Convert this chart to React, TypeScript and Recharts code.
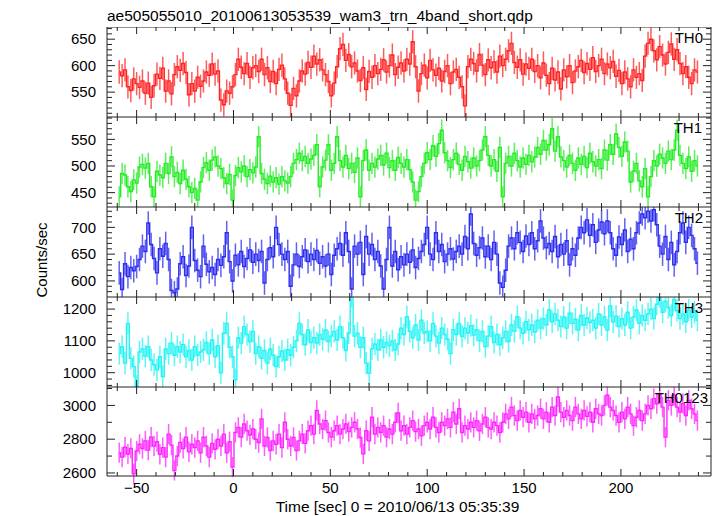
import { ComposedChart, ErrorBar, Line, XAxis, YAxis } from "recharts"

// time bins (sec from 2010/06/13 05:35:39)
const T_START = -59
const T_STEP = 1.5
const TIME_DOMAIN: [number, number] = [-65.3, 246.5]
const timeTicks = [-60, -50, -40, -30, -20, -10, 0, 10, 20, 30, 40, 50, 60, 70, 80, 90, 100, 110, 120, 130, 140, 150, 160, 170, 180, 190, 200, 210, 220, 230, 240]
const timeLabels = [-50, 0, 50, 100, 150, 200]

const th0Rate = [
  588, 581, 592, 560, 553, 575, 566,
  559, 571, 548, 567, 540, 562,
  584, 576, 595, 552, 571, 547, 583,
  598, 591, 604, 587,
  545, 566, 552, 578, 561, 571,
  588, 582, 603, 584, 590, 535, 526, 552, 548, 560,
  583, 612, 597, 585, 604, 578, 596,
  600, 589, 612, 583, 596, 570, 589, 566, 593, 601, 575,
  548, 525, 557, 543, 571, 590,
  584, 606, 597, 618, 603, 611, 592, 583, 570,
  543, 567, 598,
  632, 640, 610, 621, 598, 605, 590,
  572, 596, 555, 589, 578, 600, 585,
  593, 611, 588, 600, 620, 583, 597, 605, 590, 612, 603, 645,
  598, 552, 585, 601, 577, 610, 592,
  582, 595, 571, 589, 600, 566, 588, 593, 578, 560, 524,
  598, 612, 604, 590, 621, 601, 583, 611, 596, 607, 588, 618, 600, 612, 628,
  642, 606, 597, 611, 584, 603, 595, 612, 589, 600, 577, 605,
  582, 566, 595, 573, 588, 556, 592, 579, 600, 568, 590,
  598, 610, 587, 604, 593, 615, 589, 600, 612, 585, 603, 596, 608,
  580, 591, 566, 588, 575, 560, 592, 578, 585, 572,
  618, 642, 650, 628, 611, 636, 620, 603, 625, 641, 612, 630,
  604, 585, 598, 578, 566, 592, 588,
]

const th1Rate = [
  442, 486, 483, 461, 452,
  474, 468, 498, 503, 496,
  505, 461, 442, 490, 483,
  478, 505, 486, 517, 480,
  488, 467, 492, 475, 461,
  450, 458, 436, 470,
  497, 506, 492, 511, 517, 500, 495,
  478, 467, 484, 436,
  482, 497, 489, 500, 480, 493, 487, 498, 555,
  486, 475, 467, 481, 470, 478, 466, 480,
  472, 468, 480, 505, 512,
  524, 510, 518, 505, 513, 520,
  540, 461, 498, 511, 540, 492, 505,
  555, 510, 498, 520, 495, 505, 488, 515,
  442, 510, 530, 492, 505, 498, 513,
  520, 502, 524, 497, 510, 492, 516, 505, 498, 512, 493,
  470, 436, 452, 480,
  505, 525, 512, 538, 518, 542, 567, 525, 510,
  497, 512, 524, 503, 492, 518, 508, 496, 515, 500, 510,
  530, 555, 520, 500, 512, 490, 535, 442,
  505, 518, 500, 524, 510, 498, 515, 503, 520, 508, 517,
  535, 522, 548, 530, 540, 570, 528, 555, 517,
  510, 498, 520, 505, 492, 515, 503, 518, 497, 524, 508, 500, 512, 495, 530, 511,
  540, 522, 560, 535, 518, 545, 528, 470,
  490, 505, 472, 461, 495, 442, 480,
  510, 500, 522, 515, 505, 528, 512, 530, 567, 520,
  505, 495, 517, 490, 510, 500,
]

const th2Rate = [
  615, 584, 632, 608, 625, 619,
  627, 640, 665, 655,
  708, 668, 642, 615, 660, 646, 670,
  640, 582, 578,
  585, 632, 645, 610, 628, 700, 638,
  620, 608, 665, 631, 617, 625, 612,
  640, 629, 645, 690, 636, 600,
  648, 630, 655, 627, 642, 658, 635,
  650, 638, 655, 596, 640,
  662, 645, 700, 668, 650, 640, 655,
  590, 630, 650, 627,
  645, 658, 636, 650, 640, 657, 633,
  645, 628, 650, 612, 648,
  660, 670, 648, 690, 655, 585, 665, 650,
  672, 612, 683, 650, 668, 640, 655, 628, 585,
  640, 700, 628, 655, 621, 645, 630, 650, 635, 658, 625, 642, 655,
  668, 700, 650, 640, 690, 655, 668, 636, 650, 660, 641, 655,
  665, 650, 683, 660, 725, 670, 648, 662, 680, 645, 665, 640, 672, 650,
  596, 588, 620,
  665, 680, 660, 690, 672, 655, 684, 668, 690, 660, 675, 712, 680, 662,
  670, 655, 683, 645, 668, 650, 675, 630, 660, 648,
  680, 700, 690, 714, 685, 705, 672, 695, 710, 688, 712, 690,
  660, 648, 682, 668, 695, 655, 678, 660, 690,
  708, 725, 718, 730, 712, 733, 705,
  665, 650, 683, 640, 672, 630, 655,
  690, 708, 672, 700, 685, 660, 633,
]

const th3Rate = [
  1060, 1082, 1030, 1155, 1045, 1019, 957,
  1065, 1075, 1052, 1082, 1040,
  1025, 1009, 1050, 988,
  1075, 1060, 1093, 1055, 1082, 1065, 1088,
  1050, 1070, 1040, 1082, 1055, 1065,
  1072, 1095, 1060, 1103, 1050, 1085, 1000,
  1124, 1155, 1080, 1050,
  978,
  1110, 1093, 1145, 1120, 1098, 1130,
  1060, 1082, 1045, 1070, 1030, 1075, 1055,
  1019, 1050, 1068, 1040, 1072, 1055, 1080,
  1100, 1155, 1120, 1088, 1134, 1095, 1110,
  1093, 1120, 1105, 1134, 1098, 1115,
  1130, 1103, 1145, 1110, 1070, 1125, 1240, 1115,
  1124, 1080, 1110, 1030, 998,
  1075, 1090, 1072, 1103, 1080, 1095, 1085, 1100, 1072, 1090,
  1140, 1120, 1176, 1130, 1110, 1150, 1103, 1165, 1125,
  1130, 1100, 1155, 1115, 1093, 1140, 1120, 1105, 1060,
  1135, 1120, 1155, 1114, 1140, 1125, 1148, 1118, 1135,
  1100, 1130, 1082, 1115, 1145, 1095, 1120, 1088, 1110, 1130, 1098,
  1150, 1130, 1176, 1140, 1124, 1160, 1135, 1150, 1128, 1165, 1140,
  1170, 1150, 1197, 1160, 1185, 1165,
  1145, 1175, 1140, 1187, 1155, 1168, 1134, 1180, 1150, 1172, 1158,
  1165, 1140, 1185, 1150, 1175, 1134, 1210, 1160, 1178, 1145,
  1170, 1150, 1190, 1140, 1175, 1197, 1155, 1180, 1165,
  1185, 1200, 1170, 1215, 1240, 1190, 1225, 1205, 1180, 1230,
  1195, 1170, 1185, 1160, 1197, 1175, 1190, 1165,
]

const th0123Rate = [
  2720, 2694, 2753, 2712, 2745, 2595, 2730,
  2770, 2745, 2790, 2735, 2812, 2760, 2785,
  2710, 2750, 2694, 2830, 2765, 2615,
  2700, 2780, 2745, 2812, 2725, 2770, 2750,
  2790, 2720, 2812, 2760, 2694, 2775, 2740,
  2800, 2760, 2830, 2720, 2785, 2635,
  2840, 2870, 2812, 2890, 2850, 2825, 2860,
  2800, 2780, 2920, 2760, 2810, 2733, 2790, 2770, 2830, 2750, 2900, 2800,
  2760, 2810, 2733, 2790, 2830, 2775,
  2850, 2880, 2830, 2970, 2890, 2860, 2910, 2840, 2812,
  2850, 2880, 2830, 2860, 2890, 2845, 2870, 2900, 2860,
  2810, 2713, 2850, 2790, 2930, 2830, 2870,
  2840, 2880, 2812, 2860, 2830, 2900, 2955, 2850, 2880, 2830, 2870, 2910, 2845, 2860, 2820, 2880,
  2900, 2860, 2930, 2870, 2840, 2900, 2880, 2920, 2870, 2960, 2890, 2980,
  2840, 2880, 2860, 2900, 2870, 2910, 2850, 2890, 2930, 2870, 2860, 2900, 2880, 2840,
  2900, 2950, 2920, 2990, 2940, 2910, 2970, 2930, 2960, 2900, 2950, 2920,
  2940, 2980, 2920, 2960, 2900, 2990, 2940, 3050, 2960,
  2930, 2970, 2940, 2910, 2990, 2950, 2920, 2970, 2935, 2960, 2900, 2980, 2950, 2940,
  3000, 3060, 2990, 2970,
  2940, 2900, 2960, 2920, 2990, 2950, 2880, 2930, 2970, 2910, 2950,
  3000, 2980, 3040, 3010, 3067, 2990, 2812, 3030, 3000, 3060, 2990,
  2960, 3010, 2940, 3030, 2980, 2950, 2910,
]

// 1-sigma errors
const th0Err = 22
const th1Err = 20
const th2Err = 22
const th3Err = 35
const th0123Err = 60

const th0Ticks = [510, 520, 530, 540, 550, 560, 570, 580, 590, 600, 610, 620, 630, 640, 650, 660, 670]
const th0Labels = [550, 600, 650]
const th1Ticks = [430, 440, 450, 460, 470, 480, 490, 500, 510, 520, 530, 540, 550, 560, 570, 580, 590]
const th1Labels = [450, 500, 550]
const th2Ticks = [580, 590, 600, 610, 620, 630, 640, 650, 660, 670, 680, 690, 700, 710, 720, 730]
const th2Labels = [600, 650, 700]
const th3Ticks = [960, 980, 1000, 1020, 1040, 1060, 1080, 1100, 1120, 1140, 1160, 1180, 1200, 1220]
const th3Labels = [1000, 1100, 1200]
const th0123Ticks = [2600, 2700, 2800, 2900, 3000, 3100]
const th0123Labels = [2600, 2800, 3000]

const FONT = '"Liberation Sans", Arial, Helvetica, sans-serif'
const AXIS = "#222"

const panels = [
  { name: "TH0", values: th0Rate, err: th0Err, color: "#ff2424", domain: [503, 673], ticks: th0Ticks, labels: th0Labels, top: 27, height: 90, labelRight: 703 },
  { name: "TH1", values: th1Rate, err: th1Err, color: "#24ec24", domain: [423, 592], ticks: th1Ticks, labels: th1Labels, top: 117, height: 90, labelRight: 702 },
  { name: "TH2", values: th2Rate, err: th2Err, color: "#2c2cf0", domain: [570, 738], ticks: th2Ticks, labels: th2Labels, top: 207, height: 90, labelRight: 703 },
  { name: "TH3", values: th3Rate, err: th3Err, color: "#24f4f4", domain: [955, 1238], ticks: th3Ticks, labels: th3Labels, top: 297, height: 90, labelRight: 703 },
  { name: "TH0123", values: th0123Rate, err: th0123Err, color: "#ff24ff", domain: [2582, 3109], ticks: th0123Ticks, labels: th0123Labels, top: 387, height: 89, labelRight: 708 },
]

const fmt = (v: number) => (v < 0 ? "\u2212" + Math.abs(v) : String(v))

// y ticks: dir = +1 points right (left frame), -1 points left (right frame)
function YTick(p: any) {
  const v = p.payload.value
  const major = p.labels.includes(v)
  return (
    <g>
      <line x1={p.x} y1={p.y} x2={p.x + p.dir * (major ? 8 : 5)} y2={p.y} stroke={AXIS} strokeWidth={1} />
      {p.showLabels && major && (
        <text x={p.x - 11} y={p.y + 5.3} textAnchor="end" fontSize={15} fontFamily={FONT} fill="#000">
          {v}
        </text>
      )}
    </g>
  )
}

// time ticks: dir = -1 points up (bottom frame), +1 points down (top frame)
function XTick(p: any) {
  const v = p.payload.value
  const major = timeLabels.includes(v)
  return (
    <g>
      <line x1={p.x} y1={p.y} x2={p.x} y2={p.y + p.dir * (major ? 7 : 4)} stroke={AXIS} strokeWidth={1} />
      {p.showLabels && major && (
        <text x={p.x} y={p.y + 17} textAnchor="middle" fontSize={15} fontFamily={FONT} fill="#000">
          {fmt(v)}
        </text>
      )}
    </g>
  )
}

function Panel({ p, last }: { p: (typeof panels)[number]; last: boolean }) {
  const rows = p.values.map((v, i) => ({ t: T_START + T_STEP * i, rate: v, err: p.err }))
  const extra = last ? 40 : 0
  return (
    <div style={{ position: "absolute", left: 0, top: p.top }}>
      <ComposedChart width={717} height={p.height + extra} data={rows} margin={{ top: 0, right: 6, bottom: 0, left: 0 }}>
        <XAxis
          xAxisId="b"
          dataKey="t"
          type="number"
          domain={TIME_DOMAIN}
          allowDataOverflow
          ticks={timeTicks}
          interval={0}
          mirror={!last}
          height={last ? extra : 2}
          tickSize={0}
          tickMargin={0}
          tickLine={false}
          axisLine
          stroke={AXIS}
          tick={<XTick dir={-1} showLabels={last} />}
        />
        <XAxis
          xAxisId="t"
          orientation="top"
          dataKey="t"
          type="number"
          domain={TIME_DOMAIN}
          allowDataOverflow
          ticks={timeTicks}
          interval={0}
          mirror
          height={2}
          tickSize={0}
          tickMargin={0}
          tickLine={false}
          axisLine
          stroke={AXIS}
          tick={<XTick dir={1} showLabels={false} />}
        />
        <YAxis
          yAxisId="l"
          type="number"
          domain={p.domain}
          allowDataOverflow
          ticks={p.ticks}
          interval={0}
          width={107}
          tickSize={0}
          tickMargin={0}
          tickLine={false}
          axisLine
          stroke={AXIS}
          tick={<YTick dir={1} labels={p.labels} showLabels />}
        />
        <YAxis
          yAxisId="r"
          orientation="right"
          type="number"
          domain={p.domain}
          allowDataOverflow
          ticks={p.ticks}
          interval={0}
          mirror
          width={2}
          tickSize={0}
          tickMargin={0}
          tickLine={false}
          axisLine
          stroke={AXIS}
          tick={<YTick dir={-1} labels={p.labels} showLabels={false} />}
        />
        <Line
          xAxisId="b"
          yAxisId="l"
          dataKey="rate"
          type="step"
          stroke={p.color}
          strokeWidth={1.4}
          dot={false}
          activeDot={false}
          isAnimationActive={false}
        >
          <ErrorBar dataKey="err" width={0} stroke={p.color} strokeWidth={1.5} strokeOpacity={0.75} isAnimationActive={false} />
        </Line>
      </ComposedChart>
    </div>
  )
}

export default function App() {
  return (
    <div style={{ position: "absolute", left: 0, top: 0, width: 717, height: 516, background: "#fff", overflow: "hidden" }}>
      {panels.map((p, i) => (
        <Panel key={p.name} p={p} last={i === panels.length - 1} />
      ))}
      <svg width={717} height={516} style={{ position: "absolute", left: 0, top: 0, pointerEvents: "none" }}>
        <text x={107} y={20.7} fontSize={15.5} fontFamily={FONT} fill="#000">
          ae505055010_20100613053539_wam3_trn_4band_short.qdp
        </text>
        {panels.map((p) => (
          <text key={p.name} x={p.labelRight} y={p.top + 15.7} textAnchor="end" fontSize={15} fontFamily={FONT} fill="#000">
            {p.name}
          </text>
        ))}
        <text x={46.5} y={260} transform="rotate(-90 46.5 260)" textAnchor="middle" fontSize={15} fontFamily={FONT} fill="#000">
          Counts/sec
        </text>
        <text x={397.5} y={511.7} textAnchor="middle" fontSize={15.5} fontFamily={FONT} fill="#000">
          Time [sec] 0 = 2010/06/13 05:35:39
        </text>
      </svg>
    </div>
  )
}
